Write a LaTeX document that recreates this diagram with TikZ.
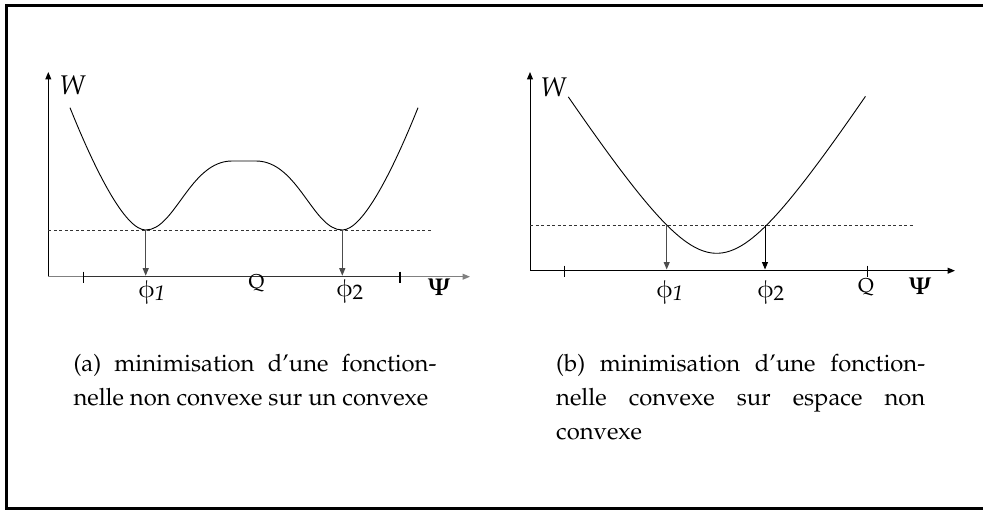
\documentclass[tikz,border=0pt]{standalone}
\usepackage[T1]{fontenc}
\usepackage{pxfonts}
\usetikzlibrary{arrows.meta}
\begin{document}
\begin{tikzpicture}[x=1pt,y=-1pt,
  axis/.style={line width=1pt,-{Triangle[length=7.5pt,width=6pt]}},
  drop/.style={line width=1pt,-{Triangle[length=7.5pt,width=6pt]}},
  level/.style={line width=0.6pt,dash pattern=on 3pt off 2.5pt,black!80},
  curve/.style={line width=0.9pt},
  tickmark/.style={line width=1.1pt},
  lab/.style={inner sep=0pt,font=\fontsize{24}{28}\selectfont},
  qlab/.style={inner sep=0pt,font=\fontsize{20}{24}\selectfont},
  capt/.style={inner sep=0pt,anchor=north west,align=justify,text width=363pt,font=\fontsize{23.8}{34}\selectfont}
]
\useasboundingbox (0,0) rectangle (983,511);
% frame
\draw[line width=3pt] (990,5.3) -- (6.5,5.3) -- (6.5,508.8) -- (990,508.8);

% ---------- left diagram ----------
\coordinate (o1) at (48.3,276.7);
\coordinate (ytop1) at (48.3,72);
\coordinate (xend1) at (470,276.7);
\coordinate (qa1) at (83.3,276.7);
\coordinate (qb1) at (400,276.7);
\draw[axis] (o1) -- (ytop1);
\draw[axis,black!50] (o1) -- (xend1);
\draw[line width=1.4pt,black!80] (qa1) -- (qb1);
\draw[tickmark] (83.3,271.7) -- (83.3,283.3);
\draw[tickmark] (400,271.7) -- (400,283.3);
\draw[curve] (70,107.7) .. controls (95,170) and (125,230) .. (145.7,230)
  .. controls (175,230) and (190,161) .. (232,161)
  -- (256,161)
  .. controls (298,161) and (313,230) .. (342.3,230)
  .. controls (363,230) and (393,170) .. (418,107.7);
\coordinate (lv1a) at (48.3,230);
\coordinate (lv1b) at (431.7,230);
\draw[level] (lv1a) -- (lv1b);
\coordinate (m1) at (145.7,230);
\coordinate (m1b) at (145.7,275.7);
\coordinate (m2) at (342.3,230);
\coordinate (m2b) at (342.3,275.7);
\draw[drop,black!70] (m1) -- (m1b);
\draw[drop,black!70] (m2) -- (m2b);
\node[lab,font=\fontsize{27}{30}\selectfont] (w1) at (72.5,85) {$W$};
\node[lab] (p11) at (152,293) {$\phiup$\raisebox{-3pt}{\fontsize{21}{21}\selectfont\textit{1}}};
\node[qlab] (q1) at (256.5,283.5) {Q};
\node[lab] (p21) at (350,291.5) {$\phiup$\raisebox{-3pt}{\fontsize{21}{21}\selectfont 2}};
\node[lab] (psi1) at (439,287.5) {$\mathbf{\Psi}$};

% ---------- right diagram ----------
\coordinate (o2) at (530,270.7);
\coordinate (ytop2) at (530,72);
\coordinate (xend2) at (955,270.7);
\draw[axis] (o2) -- (ytop2);
\draw[axis] (o2) -- (xend2);
\draw[tickmark] (564.3,265.7) -- (564.3,276.7);
\draw[tickmark] (867.3,265.7) -- (867.3,276.7);
\draw[curve] plot[domain=-2.473:2.48,samples=80,smooth,variable=\t]
  ({716.7+60*\t},{253.3-93.8*(sqrt(1+\t*\t)-1)});
\coordinate (lv2a) at (530,225);
\coordinate (lv2b) at (913,225);
\draw[level] (lv2a) -- (lv2b);
\coordinate (n1) at (666.7,225);
\coordinate (n1b) at (666.7,269.5);
\coordinate (n2) at (765,225);
\coordinate (n2b) at (765,269.5);
\draw[drop,black!70] (n1) -- (n1b);
\draw[drop] (n2) -- (n2b);
\node[lab,font=\fontsize{27}{30}\selectfont] (w2) at (553.5,87.5) {$W$};
\node[lab] (p12) at (670,292.5) {$\phiup$\raisebox{-3pt}{\fontsize{21}{21}\selectfont\textit{1}}};
\node[lab] (p22) at (771,292.5) {$\phiup$\raisebox{-3pt}{\fontsize{21}{21}\selectfont 2}};
\node[qlab] (q2) at (866,287.5) {Q};
\node[lab] (psi2) at (920,286.7) {$\mathbf{\Psi}$};

% ---------- captions ----------
\node[capt] (capa) at (73.3,354.5) {(a) minimisation d'une fonction-\linebreak nelle non convexe sur un convexe};
\node[capt,text width=369pt] (capb) at (556,354.5) {(b) minimisation d'une fonction-\linebreak nelle convexe sur espace non\linebreak convexe};
\end{tikzpicture}
\end{document}
